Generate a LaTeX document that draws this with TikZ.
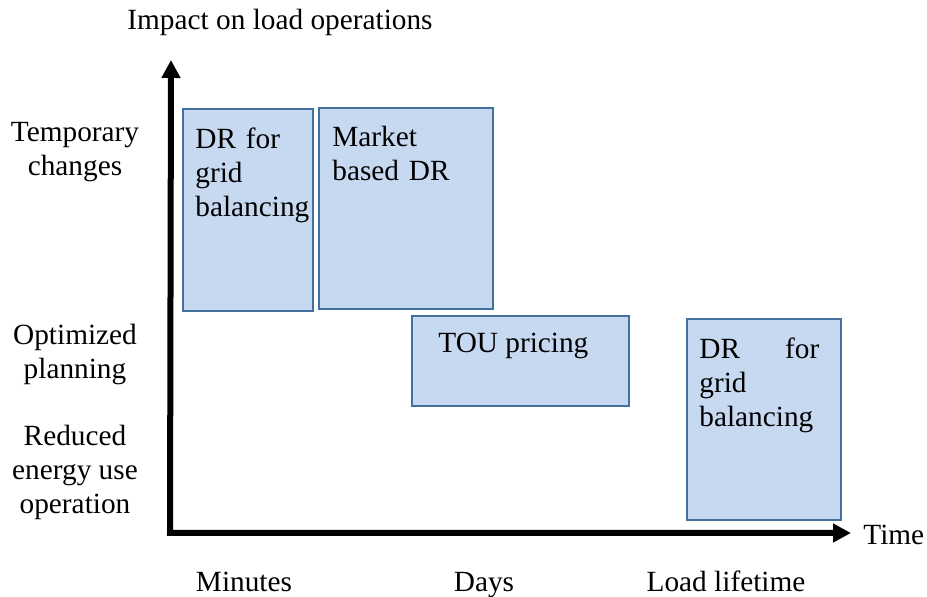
\documentclass[tikz,border=0pt]{standalone}
\usepackage{fontspec}
\setmainfont{Liberation Serif}
\usetikzlibrary{arrows.meta}
\definecolor{boxfill}{HTML}{C6D9F1}
\definecolor{boxline}{HTML}{41719C}
\hyphenpenalty=10000
\exhyphenpenalty=10000

\begin{document}
\begin{tikzpicture}[x=0.5pt, y=-0.5pt,
    font=\fontsize{14.65}{17}\selectfont,
    drbox/.style={draw=boxline, fill=boxfill, line width=1pt, anchor=north west, inner sep=0pt},
    drtext/.style={anchor=north west, inner sep=0pt, align=left},
    axislabel/.style={inner sep=0pt, align=center}]
    \useasboundingbox (0,0) rectangle (927,597);
    \coordinate (origin) at (170,533);
    \coordinate (ytip) at (171,60);
    \coordinate (xtip) at (851,533);
    \draw[black, line width=3pt, line join=miter,
        {Triangle[length=9pt,width=9pt]}-{Triangle[length=9pt,width=9pt]}]
        (ytip) -- (origin) -- (xtip);
    \node[axislabel] (impact) at (280,22) {Impact on load operations};
    \node[axislabel, anchor=west] (time) at (863,535) {Time};
    \node[axislabel] (temporary) at (75,152) {Temporary\\changes};
    \node[axislabel] (optimized) at (75,355) {Optimized\\planning};
    \node[axislabel] (reduced) at (75,472) {Reduced\\energy use\\operation};
    \node[axislabel, anchor=base] (minutes) at (244,592) {Minutes};
    \node[axislabel, anchor=base] (days) at (484,592) {Days};
    \node[axislabel, anchor=base] (lifetime) at (726,592) {Load lifetime};
    \node[drbox, minimum width=65pt, minimum height=101pt] (grid) at (182,108) {};
    \node[drtext, text width=58pt] (gridtext)
        at ([shift={(6.5pt,-9.5pt)}]grid.north west) {DR for grid balancing};
    \node[drbox, minimum width=87pt, minimum height=100.5pt] (market) at (318,107) {};
    \node[drtext, text width=70pt] (markettext)
        at ([shift={(7pt,-9.5pt)}]market.north west) {Market based DR};
    \node[drbox, minimum width=108.5pt, minimum height=45pt] (tou) at (411,315) {};
    \node[drtext] (toutext)
        at ([shift={(13.5pt,-9pt)}]tou.north west) {TOU pricing};
    \node[drbox, minimum width=77pt, minimum height=100.5pt] (lifegrid) at (686,318) {};
    \node[drtext, text width=60pt, align=justify] (lifegridtext)
        at ([shift={(6.5pt,-9.5pt)}]lifegrid.north west) {DR for grid balancing};
\end{tikzpicture}
\end{document}
